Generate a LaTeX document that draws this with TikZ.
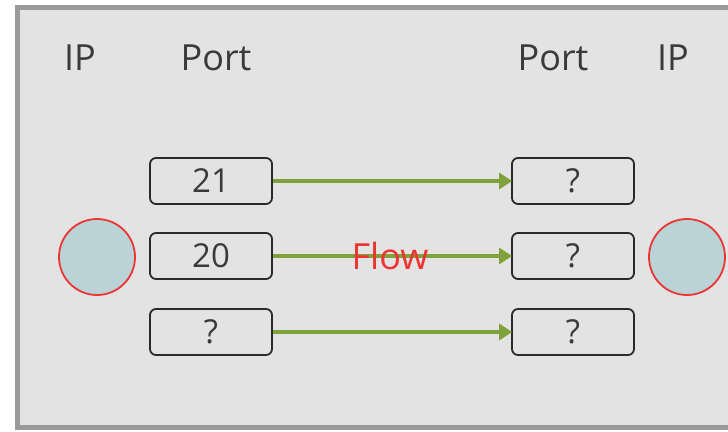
\documentclass[tikz,border=0pt]{standalone}
\usepackage{fontspec}
\setmainfont{Open Sans}
\usetikzlibrary{arrows.meta}
\definecolor{panel}{HTML}{E3E3E3}
\definecolor{frame}{HTML}{9A9A9A}
\definecolor{hostfill}{HTML}{B9D3D6}
\definecolor{hostline}{HTML}{EE3333}
\definecolor{flowgreen}{HTML}{7FA33A}
\definecolor{ink}{HTML}{2A2A2A}
\definecolor{label}{HTML}{3A3A3A}
\tikzset{
  x=1pt, y=-1pt,
  heading/.style={text=label, font=\fontsize{36}{40}\selectfont, inner sep=0pt},
  portbox/.style={draw=ink, line width=1.8pt, rounded corners=6pt,
    minimum width=122pt, minimum height=46pt, inner sep=0pt,
    text=label, font=\fontsize{33}{36}\selectfont},
  host/.style={circle, draw=hostline, line width=1.8pt, fill=hostfill,
    minimum size=76pt, inner sep=0pt},
  flowarrow/.style={draw=flowgreen, line width=4pt,
    -{Triangle[length=13pt, width=16pt]}, shorten >=-1pt},
}
\begin{document}
\begin{tikzpicture}
  \useasboundingbox (0,0) rectangle (728,431);
  \begin{scope}
    \clip (0,0) rectangle (728,431);
    \fill[white] (0,0) rectangle (728,431);
    \draw[frame, line width=5pt, fill=panel] (17.5,7.5) rectangle (740,427.5);
  \end{scope}

  % column headings
  \node[heading] (ipL)   at (80,58)  {IP};
  \node[heading] (portL) at (216,58) {Port};
  \node[heading] (portR) at (553,58) {Port};
  \node[heading] (ipR)   at (673,58) {IP};

  % hosts
  \node[host] (hostL) at (97,257) {};
  \node[host] (hostR) at (687,257) {};

  % source ports
  \node[portbox] (s1) at (211,181) {21};
  \node[portbox] (s2) at (211,256) {20};
  \node[portbox] (s3) at (211,332) {?};

  % destination ports
  \node[portbox] (d1) at (573,181) {?};
  \node[portbox] (d2) at (573,256) {?};
  \node[portbox] (d3) at (573,332) {?};

  % flows
  \draw[flowarrow] (s1) -- (d1);
  \draw[flowarrow] (s2) -- (d2);
  \draw[flowarrow] (s3) -- (d3);

  \node[text=hostline, font=\fontsize{36}{38}\selectfont, inner sep=0pt]
    (flow) at (390,256) {Flow};
\end{tikzpicture}
\end{document}
